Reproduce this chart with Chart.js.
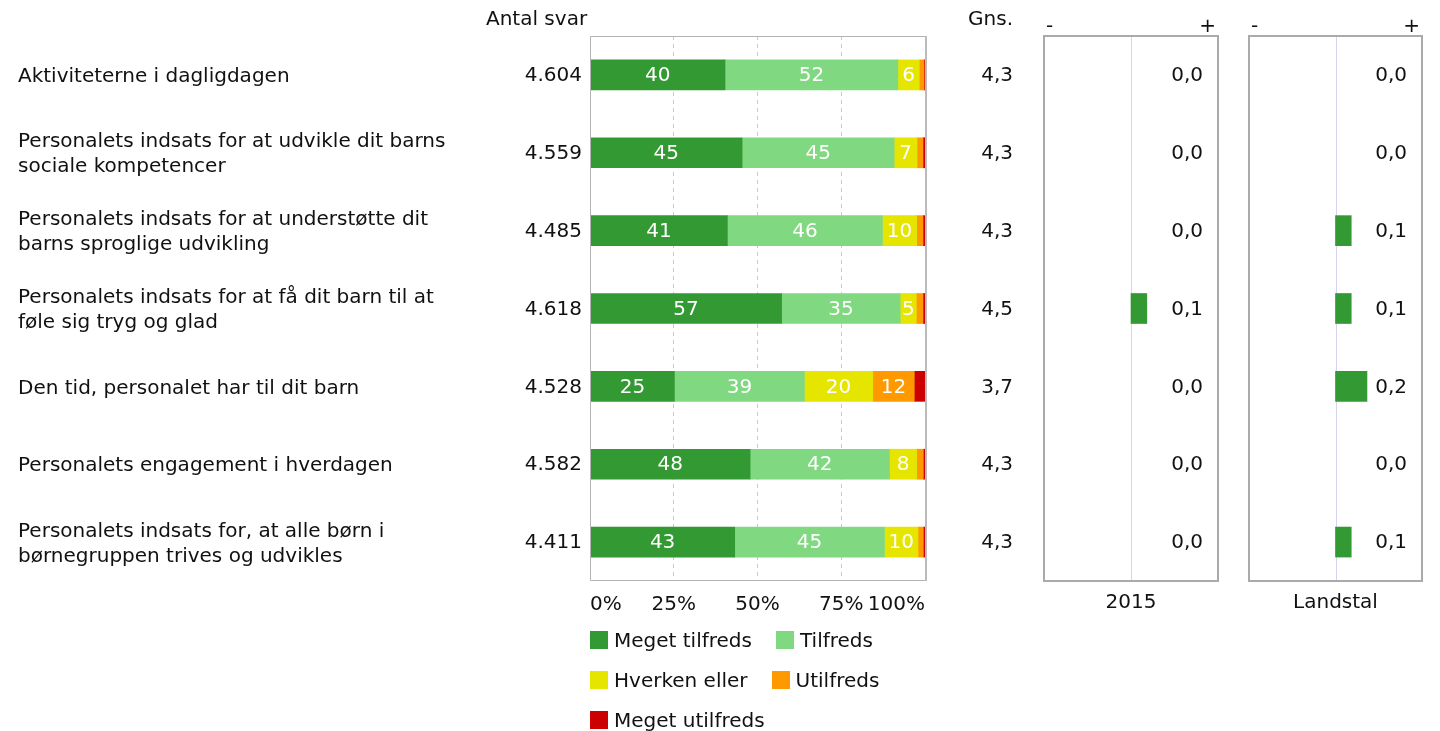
<!DOCTYPE html>
<html lang="da">
<head>
<meta charset="utf-8">
<title>Tilfredshed</title>
<script src="https://cdn.jsdelivr.net/npm/chart.js@4.4.1/dist/chart.umd.min.js"></script>
<style>
  html, body { margin: 0; padding: 0; background: #fff; }
  body { width: 1440px; height: 731px; position: relative; overflow: hidden;
         font-family: 'DejaVu Sans', Verdana, sans-serif; color: #111; }
  canvas { position: absolute; top: 0; }
  #legend { position: absolute; left: 590px; top: 630px; font-size: 20px; }
  .lg-row { display: flex; height: 20px; margin-bottom: 20px; align-items: center; }
  .lg-item { display: flex; align-items: center; margin-right: 24px; white-space: nowrap; }
  .lg-box { width: 18px; height: 18px; margin-right: 6px; }
</style>
</head>
<body>
<canvas id="mainChart" width="1030" height="640" style="left:0"></canvas>
<canvas id="chart2015" width="200" height="640" style="left:1030px"></canvas>
<canvas id="chartLand" width="200" height="640" style="left:1235px"></canvas>
<div id="legend"></div>

<script>
// spørgsmål
const categories = [
    ['Aktiviteterne i dagligdagen'],
    ['Personalets indsats for at udvikle dit barns', 'sociale kompetencer'],
    ['Personalets indsats for at understøtte dit', 'barns sproglige udvikling'],
    ['Personalets indsats for at få dit barn til at', 'føle sig tryg og glad'],
    ['Den tid, personalet har til dit barn'],
    ['Personalets engagement i hverdagen'],
    ['Personalets indsats for, at alle børn i', 'børnegruppen trives og udvikles']
];

// antal svar og gennemsnit
const antalSvar = [4604, 4559, 4485, 4618, 4528, 4582, 4411];
const gns = [4.3, 4.3, 4.3, 4.5, 3.7, 4.3, 4.3];

// fordeling i procent
const megetTilfreds  = [40.3, 45.4, 41.0, 57.2, 25.2, 47.8, 43.2];
const tilfreds       = [51.6, 45.4, 46.3, 35.4, 38.8, 41.6, 44.7];
const hverkenEller   = [6.4, 6.8, 10.2, 4.8, 20.4, 8.1, 10.0];
const utilfreds      = [1.4, 1.8, 1.9, 2.0, 12.4, 2.0, 1.6];
const megetUtilfreds = [0.3, 0.6, 0.6, 0.6, 3.2, 0.5, 0.5];

// forskel i gennemsnit
const diff2015 = [0.0, 0.0, 0.0, 0.1, 0.0, 0.0, 0.0];
const diffLandstal = [0.0, 0.0, 0.1, 0.1, 0.2, 0.0, 0.1];

const xTicks = [0, 25, 50, 75, 100];

const seriesNames = ['Meget tilfreds', 'Tilfreds', 'Hverken eller', 'Utilfreds', 'Meget utilfreds'];
const seriesColors = ['#339933', '#80d880', '#e5e500', '#ff9900', '#cc0000'];
const seriesData = [megetTilfreds, tilfreds, hverkenEller, utilfreds, megetUtilfreds];

const FAMILY = "'DejaVu Sans', Verdana, sans-serif";
const FONT = '20px ' + FAMILY;
const TXT = '#111';

const fmtCount = n => String(n).replace(/\B(?=(\d{3})+(?!\d))/g, '.');
const fmtDec = v => v.toFixed(1).replace('.', ',');

// tal i søjlerne, ramme og tekstkolonner
const mainText = {
    id: 'mainText',
    afterDatasetsDraw(chart) {
        const ctx = chart.ctx;
        ctx.save();
        ctx.font = FONT;
        ctx.fillStyle = '#fff';
        ctx.textAlign = 'center';
        ctx.textBaseline = 'middle';
        chart.data.datasets.forEach((ds, di) => {
            chart.getDatasetMeta(di).data.forEach((bar, i) => {
                const v = Math.round(ds.data[i]);
                if (v < 5) return;
                ctx.fillText(v, (bar.x + bar.base) / 2, bar.y + 1);
            });
        });
        ctx.restore();
    },
    afterDraw(chart) {
        const { ctx, chartArea: a, scales: { y } } = chart;
        ctx.save();
        ctx.strokeStyle = '#b4b4b4';
        ctx.lineWidth = 1;
        ctx.beginPath();
        ctx.moveTo(a.right, a.top + 0.5);
        ctx.lineTo(a.left + 0.5, a.top + 0.5);
        ctx.lineTo(a.left + 0.5, a.bottom - 0.5);
        ctx.lineTo(a.right, a.bottom - 0.5);
        ctx.stroke();
        ctx.lineWidth = 2;
        ctx.strokeStyle = '#bbb';
        ctx.beginPath();
        ctx.moveTo(a.right + 1, a.top);
        ctx.lineTo(a.right + 1, a.bottom);
        ctx.stroke();

        ctx.font = FONT;
        ctx.fillStyle = TXT;
        ctx.textBaseline = 'alphabetic';
        ctx.textAlign = 'left';
        ctx.fillText('Antal svar', 486, 25);
        ctx.textAlign = 'right';
        ctx.fillText('Gns.', 1013, 25);

        ctx.textBaseline = 'middle';
        antalSvar.forEach((n, i) => {
            ctx.fillText(fmtCount(n), 582, y.getPixelForValue(i) + 1);
        });
        gns.forEach((v, i) => {
            ctx.fillText(fmtDec(v), 1013, y.getPixelForValue(i) + 1);
        });
        ctx.restore();
    }
};

new Chart(document.getElementById('mainChart'), {
    type: 'bar',
    data: {
        labels: categories,
        datasets: seriesNames.map((name, k) => ({
            label: name,
            data: seriesData[k],
            backgroundColor: seriesColors[k],
            borderWidth: 0,
            barThickness: 30
        }))
    },
    options: {
        responsive: false,
        animation: false,
        indexAxis: 'y',
        layout: { padding: { left: 18, top: 36, right: 105, bottom: 0 } },
        plugins: { legend: { display: false }, tooltip: { enabled: false } },
        scales: {
            x: {
                stacked: true,
                min: 0,
                max: 100,
                afterBuildTicks: s => { s.ticks = xTicks.map(v => ({ value: v })); },
                afterFit: s => { s.height = 59; },
                ticks: {
                    align: 'inner',
                    padding: 12,
                    color: TXT,
                    font: { family: FAMILY, size: 20 },
                    callback: v => v + '%'
                },
                grid: {
                    drawTicks: false,
                    color: c => (c.tick && (c.tick.value === 0 || c.tick.value === 100)) ? 'rgba(0,0,0,0)' : '#c8c8c8'
                },
                border: { display: false, dash: [4, 4] }
            },
            y: {
                stacked: true,
                afterFit: s => { s.width = 572; },
                ticks: {
                    crossAlign: 'far',
                    autoSkip: false,
                    padding: 0,
                    labelOffset: 2,
                    color: TXT,
                    font: { family: FAMILY, size: 20, lineHeight: 1.25 }
                },
                grid: { display: false, drawTicks: false },
                border: { display: false }
            }
        }
    },
    plugins: [mainText]
});

// små diagrammer til højre
function panelPlugin(title) {
    return {
        id: 'panelText',
        beforeDatasetsDraw(chart) {
            const { ctx, chartArea: a, scales: { x } } = chart;
            const cx = Math.round(x.getPixelForValue(0)) + 0.5;
            ctx.save();
            ctx.strokeStyle = '#d4d4ee';
            ctx.lineWidth = 1;
            ctx.beginPath();
            ctx.moveTo(cx, a.top);
            ctx.lineTo(cx, a.bottom);
            ctx.stroke();
            ctx.restore();
        },
        afterDraw(chart) {
            const { ctx, chartArea: a, scales: { x, y } } = chart;
            const data = chart.data.datasets[0].data;
            ctx.save();
            ctx.strokeStyle = '#aaa';
            ctx.lineWidth = 2;
            ctx.strokeRect(a.left, a.top, a.right - a.left, a.bottom - a.top);

            ctx.font = FONT;
            ctx.fillStyle = TXT;
            ctx.textBaseline = 'middle';
            ctx.textAlign = 'right';
            data.forEach((v, i) => {
                ctx.fillText(fmtDec(v), a.right - 15, y.getPixelForValue(i) + 1);
            });

            ctx.textBaseline = 'alphabetic';
            ctx.textAlign = 'left';
            ctx.fillText('-', a.left + 2, 32);
            ctx.textAlign = 'right';
            ctx.fillText('+', a.right - 2, 32);

            ctx.textAlign = 'center';
            ctx.textBaseline = 'middle';
            ctx.fillText(title, x.getPixelForValue(0), 603);
            ctx.restore();
        }
    };
}

function makePanel(id, values, title, padRight) {
    new Chart(document.getElementById(id), {
        type: 'bar',
        data: {
            labels: categories,
            datasets: [{
                data: values,
                backgroundColor: c => c.raw === 0 ? 'rgba(0,0,0,0)' : '#339933',
                borderWidth: 0,
                barThickness: 30
            }]
        },
        options: {
            responsive: false,
            animation: false,
            indexAxis: 'y',
            layout: { padding: { left: 14, right: padRight, top: 36, bottom: 59 } },
            plugins: { legend: { display: false }, tooltip: { enabled: false } },
            scales: {
                x: { display: false, min: -0.55, max: 0.55 },
                y: { display: false }
            }
        },
        plugins: [panelPlugin(title)]
    });
}

makePanel('chart2015', diff2015, '2015', 12);
makePanel('chartLand', diffLandstal, 'Landstal', 13);

// forklaring
const legendRows = [[0, 1], [2, 3], [4]];
const legend = document.getElementById('legend');
legendRows.forEach(row => {
    const r = document.createElement('div');
    r.className = 'lg-row';
    row.forEach(k => {
        const item = document.createElement('div');
        item.className = 'lg-item';
        const box = document.createElement('span');
        box.className = 'lg-box';
        box.style.background = seriesColors[k];
        const t = document.createElement('span');
        t.textContent = seriesNames[k];
        item.appendChild(box);
        item.appendChild(t);
        r.appendChild(item);
    });
    legend.appendChild(r);
});
</script>
</body>
</html>
